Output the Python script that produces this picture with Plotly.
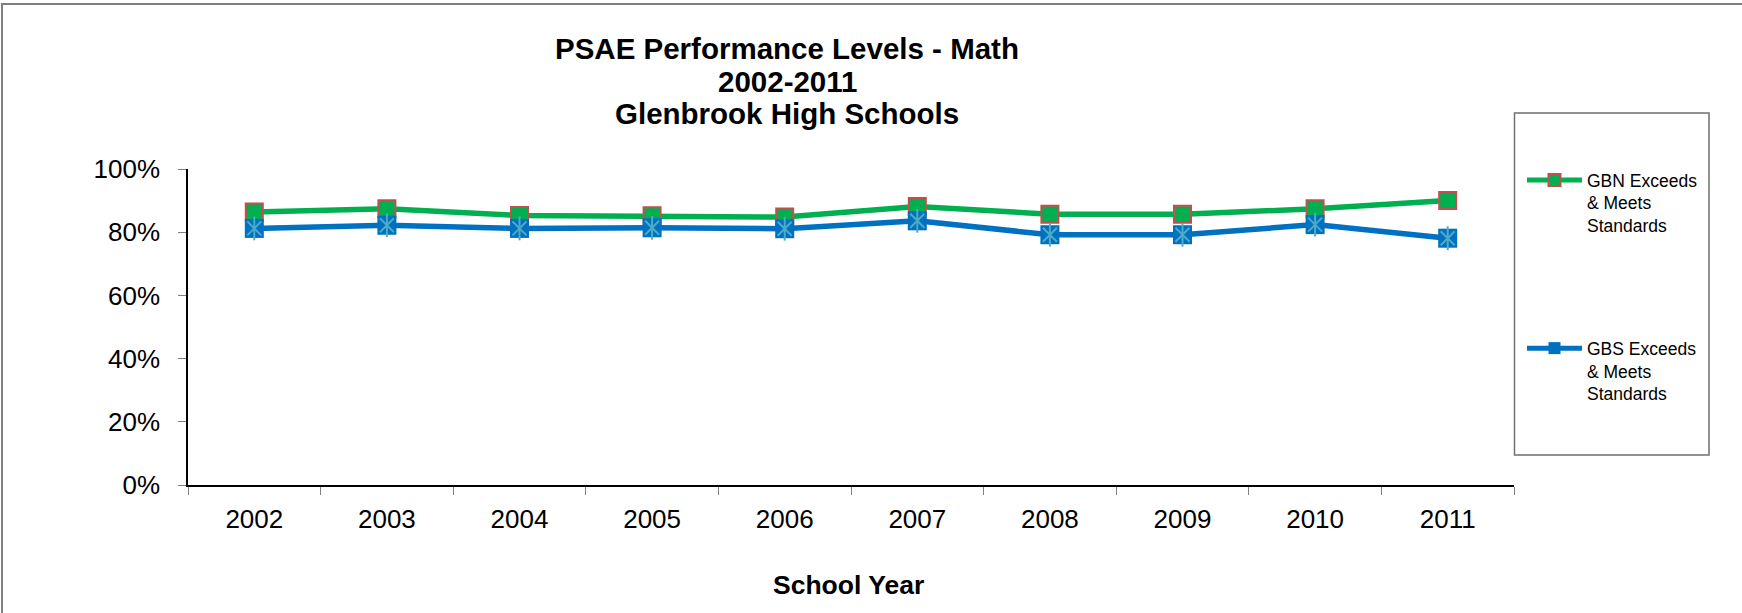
import plotly.graph_objects as go

# ---- data ----
years = ["2002", "2003", "2004", "2005", "2006", "2007", "2008", "2009", "2010", "2011"]
gbn_values = [0.864, 0.874, 0.853, 0.852, 0.848, 0.881, 0.857, 0.857, 0.874, 0.900]
gbs_values = [0.812, 0.822, 0.812, 0.814, 0.811, 0.836, 0.792, 0.792, 0.824, 0.781]
gbn_name = "GBN Exceeds<br>& Meets<br>Standards"
gbs_name = "GBS Exceeds<br>& Meets<br>Standards"
title_lines = ["PSAE Performance Levels - Math", "2002-2011", "Glenbrook High Schools"]
x_title = "School Year"

# ---- geometry (pixels) ----
W, H = 1742, 613
L, R, T, B = 188, 228, 169, 128
PW, PH = W - L - R, H - T - B
FONT = "Liberation Sans, Arial, sans-serif"

def px_x(x):
    return (x - L) / PW

def px_y(y):
    return (H - B - y) / PH

GREEN = "#00B050"
RED = "#C0504D"
BLUE = "#0070C0"
LBLUE = "#4BACC6"

fig = go.Figure()

fig.add_trace(go.Scatter(
    x=years, y=gbn_values, name=gbn_name, mode="lines+markers",
    legendgroup="g1",
    line=dict(color=GREEN, width=5.5),
    marker=dict(symbol="square", size=17, color=GREEN, line=dict(color=RED, width=2)),
))
fig.add_trace(go.Scatter(
    x=years, y=gbs_values, name=gbs_name, mode="lines+markers",
    legendgroup="g2",
    line=dict(color=BLUE, width=5.5),
    marker=dict(symbol="square", size=19, color=BLUE, line=dict(width=0)),
))
# asterisk overlay on GBS markers
fig.add_trace(go.Scatter(
    x=years, y=gbs_values, mode="markers", showlegend=False, legendgroup="g2",
    hoverinfo="skip",
    marker=dict(symbol="x-thin-open", size=14, color=LBLUE, line=dict(color=LBLUE, width=2)),
))
fig.add_trace(go.Scatter(
    x=years, y=gbs_values, mode="markers", showlegend=False, legendgroup="g2",
    hoverinfo="skip",
    marker=dict(symbol="line-ns-open", size=17, color=LBLUE, line=dict(color=LBLUE, width=2)),
))

annotations = []
title_y = [49, 81, 114]
for txt, yy in zip(title_lines, title_y):
    annotations.append(dict(
        text=txt, x=px_x(787), y=px_y(yy), xref="paper", yref="paper",
        xanchor="center", yanchor="middle", showarrow=False,
        font=dict(family=FONT, size=29.5, color="black", weight="bold"),
    ))
annotations.append(dict(
    text=x_title, x=px_x(848), y=px_y(585), xref="paper", yref="paper",
    xanchor="center", yanchor="middle", showarrow=False,
    font=dict(family=FONT, size=26.5, color="black", weight="bold"),
))

shapes = [
    # outer chart border (top/left visible)
    dict(type="rect", xref="paper", yref="paper",
         x0=px_x(2), x1=px_x(1800), y0=px_y(4), y1=px_y(660),
         line=dict(color="#7f7f7f", width=2), fillcolor="rgba(0,0,0,0)", layer="below"),
    # legend box
    dict(type="rect", xref="paper", yref="paper",
         x0=px_x(1514.5), x1=px_x(1709), y0=px_y(113), y1=px_y(455),
         line=dict(color="#6f6f6f", width=1.5), fillcolor="rgba(0,0,0,0)"),
]

fig.update_layout(
    width=W, height=H,
    margin=dict(l=L, r=R, t=T, b=B, pad=0),
    paper_bgcolor="white", plot_bgcolor="white",
    font=dict(family=FONT, color="black"),
    showlegend=True,
    legend=dict(
        x=px_x(1522), y=px_y(162), xanchor="left", yanchor="top",
        xref="paper", yref="paper",
        font=dict(family=FONT, size=17.5, color="black"),
        bgcolor="rgba(0,0,0,0)", borderwidth=0,
        traceorder="grouped", tracegroupgap=97,
        itemwidth=55, valign="top", itemsizing="constant",
    ),
    annotations=annotations,
    shapes=shapes,
    xaxis=dict(
        type="category", range=[-0.5, 9.5],
        showline=True, linecolor="black", linewidth=1.5,
        ticks="outside", tickson="boundaries", ticklen=8, tickcolor="#808080", tickwidth=1,
        showgrid=False, zeroline=False,
        tickfont=dict(family=FONT, size=26, color="black"),
        ticklabelstandoff=10,
    ),
    yaxis=dict(
        range=[0, 1], dtick=0.2, tickformat=".0%",
        showline=True, linecolor="black", linewidth=1.5,
        ticks="outside", ticklen=8, tickcolor="#808080", tickwidth=1,
        showgrid=False, zeroline=False,
        tickfont=dict(family=FONT, size=26, color="black"),
        ticklabelstandoff=13,
    ),
)

fig.write_html(
    "out.html",
    config={"displayModeBar": False},
    post_script="document.body.style.margin='0px';",
)
